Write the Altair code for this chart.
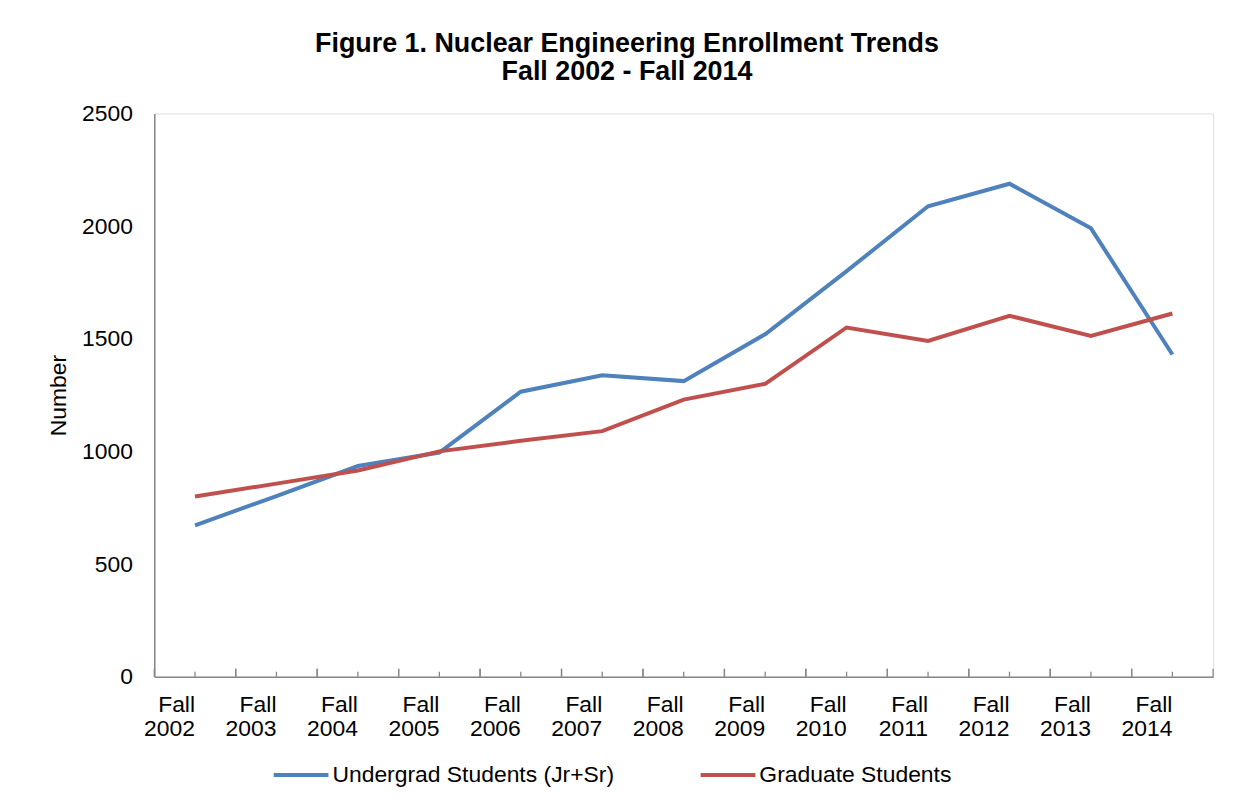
import altair as alt
import pandas as pd

years = ["Fall 2002", "Fall 2003", "Fall 2004", "Fall 2005", "Fall 2006", "Fall 2007",
         "Fall 2008", "Fall 2009", "Fall 2010", "Fall 2011", "Fall 2012", "Fall 2013", "Fall 2014"]
undergrad = [672, 802, 935, 995, 1265, 1338, 1312, 1520, 1800, 2088, 2188, 1990, 1430]
graduate = [800, 857, 915, 1000, 1047, 1090, 1230, 1300, 1550, 1490, 1602, 1512, 1612]
series_names = ["Undergrad Students (Jr+Sr)", "Graduate Students"]
series_colors = ["#4F81BD", "#C0504D"]
y_ticks = [0, 500, 1000, 1500, 2000, 2500]

rows = []
for name, vals in zip(series_names, [undergrad, graduate]):
    for yr, v in zip(years, vals):
        rows.append({"Year": yr, "Series": name, "Number": v})
df = pd.DataFrame(rows)
cats = pd.DataFrame({"Year": years})

FONT = "Liberation Sans"
GRAY = "#868686"

xscale = alt.Scale(domain=years, paddingInner=0, paddingOuter=0)

lines = alt.Chart(df).mark_line(strokeWidth=4).encode(
    x=alt.X("Year:N", sort=years, scale=xscale,
            axis=alt.Axis(title=None, ticks=False, labelAngle=0, labelFontSize=23,
                          labelFont=FONT, labelColor="#000000", labelPadding=28,
                          labelExpr="split(datum.label, ' ')", labelLineHeight=24,
                          domainColor=GRAY, domainWidth=1.5)),
    y=alt.Y("Number:Q", scale=alt.Scale(domain=[0, 2500], nice=False),
            axis=alt.Axis(title="Number", values=y_ticks, format="d", ticks=False,
                          labelFontSize=23, labelFont=FONT, labelColor="#000000",
                          labelPadding=22,
                          titleFont=FONT, titleFontSize=23, titleFontWeight="normal",
                          titleColor="#000000", titlePadding=11,
                          gridColor=GRAY, gridWidth=1.3, domainColor=GRAY, domainWidth=1.5)),
    color=alt.Color("Series:N", sort=series_names,
                    scale=alt.Scale(domain=series_names, range=series_colors),
                    legend=alt.Legend(title=None, orient="none", direction="horizontal",
                                      legendX=118, legendY=635, labelLimit=0,
                                      symbolType="stroke", symbolSize=3025, symbolStrokeWidth=4,
                                      labelFontSize=23, labelFont=FONT, labelColor="#000000",
                                      labelOffset=2, columnPadding=78)),
)

tick_major_start = alt.Chart(cats).mark_rule(color=GRAY, strokeWidth=1.3).encode(
    x=alt.X("Year:N", sort=years, scale=xscale, bandPosition=0),
    y=alt.datum(0), y2=alt.datum(35))
tick_major_end = alt.Chart(cats).mark_rule(color=GRAY, strokeWidth=1.3).encode(
    x=alt.X("Year:N", sort=years, scale=xscale, bandPosition=1),
    y=alt.datum(0), y2=alt.datum(35))
tick_minor = alt.Chart(cats).mark_rule(color=GRAY, strokeWidth=1.3).encode(
    x=alt.X("Year:N", sort=years, scale=xscale, bandPosition=0.5),
    y=alt.datum(0), y2=alt.datum(22))

chart = alt.layer(tick_major_start, tick_major_end, tick_minor, lines).properties(
    width=1064, height=566,
    autosize=alt.AutoSizeParams(type="none"),
    padding={"left": 147, "top": 104, "right": 26, "bottom": 133},
    title=alt.TitleParams(
        text=["Figure 1. Nuclear Engineering Enrollment Trends", "Fall 2002 - Fall 2014"],
        font=FONT, fontSize=27, fontWeight="bold", color="#000000",
        anchor="middle", dx=-57, offset=17, lineHeight=28),
).configure_view(stroke="transparent").configure(background="#ffffff")

chart.save("out.html", embed_options={"renderer": "svg", "actions": False})
